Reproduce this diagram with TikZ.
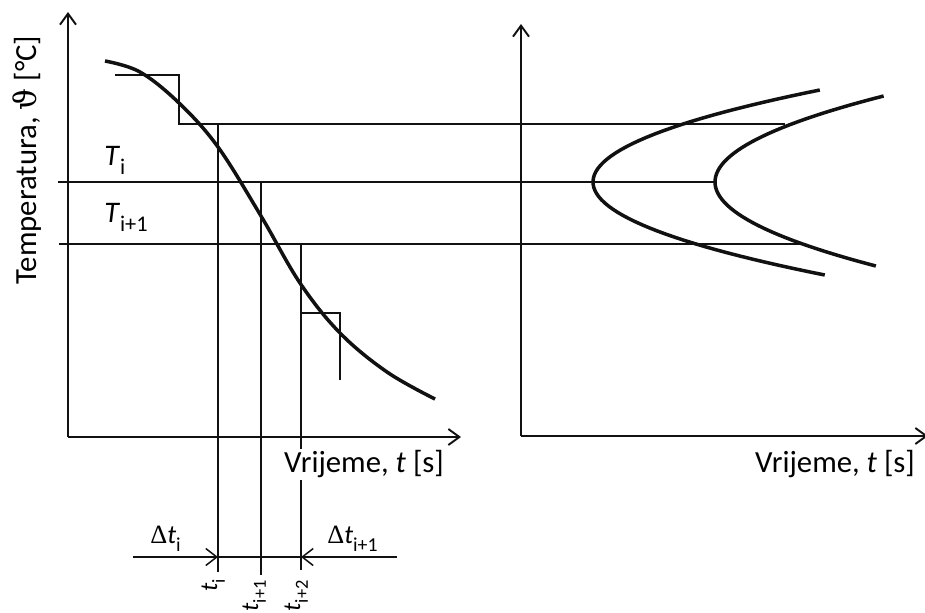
\documentclass[tikz,border=0pt]{standalone}
\usepackage{fontspec}
\setmainfont{Carlito}
\newfontfamily\symfont{DejaVu Serif}
\newfontfamily\deltafont{Liberation Serif}
\usetikzlibrary{arrows.meta,positioning,calc}
\definecolor{InkColor}{HTML}{111111}
\newcommand{\lowsub}[1]{\raisebox{-0.32em}{\scalebox{0.75}{#1}}}

\begin{document}
\begin{tikzpicture}[x=0.02cm,y=-0.02cm,
    axis/.style={InkColor,line width=1.1pt,-{Straight Barb[length=2.2mm,width=3.2mm,line width=1.1pt]}},
    grid line/.style={InkColor,line width=0.85pt},
    dimarrow/.style={InkColor,line width=0.85pt,-{Straight Barb[length=2.2mm,width=3.4mm,line width=0.85pt]}},
    curve/.style={InkColor,line width=2pt},
    axlabel/.style={font=\fontsize{17.5}{20}\selectfont,inner sep=1pt},
    tlabel/.style={font=\fontsize{17}{20}\selectfont,inner sep=0pt,anchor=base west},
    dtlabel/.style={font=\fontsize{15}{18}\selectfont,inner sep=0pt,anchor=base west},
    ticklabel/.style={font=\fontsize{14}{16}\selectfont,inner sep=0pt,rotate=90,anchor=base east}]
  \useasboundingbox (0,0) rectangle (925,612);
  % axes
  \coordinate (O1) at (68,437);  \coordinate (Y1) at (68,12);  \coordinate (X1) at (461,437);
  \coordinate (O2) at (521,436); \coordinate (Y2) at (521,24); \coordinate (X2) at (928,436);
  \draw[axis] (O1) -- (Y1);
  \draw[axis] (O1) -- (X1);
  \draw[axis] (O2) -- (Y2);
  \draw[axis] (O2) -- (X2);
  % steps and level lines
  \draw[grid line] (115,75) -- (179,75) -- (179,124) -- (785,124);
  \draw[grid line] (58,182) -- (715,182);
  \draw[grid line] (59,244) -- (803,244);
  \draw[grid line] (218,124) -- (218,572);
  \draw[grid line] (261,182) -- (261,575);
  \draw[grid line] (301,244) -- (301,570);
  \draw[grid line] (301,313) -- (340,313) -- (340,380);
  % cooling curve
  \draw[curve] plot[smooth,tension=0.6] coordinates {(105,61) (140,72) (179,103) (218,147)
      (261,216) (300,283) (340,333) (387,372) (435,399)};
  % parabolas
  \draw[curve] plot[domain=-92:93,samples=60] ({593+0.0268*\x*\x},{182+\x});
  \draw[curve] plot[domain=-86:84,samples=60] ({715+0.0228*\x*\x},{182+\x});
  % time steps
  \coordinate (dA) at (133,557); \coordinate (ti) at (218,557);
  \coordinate (tii) at (301,557); \coordinate (dB) at (397,557);
  \draw[dimarrow] (dA) -- (ti);
  \draw[grid line] (ti) -- (tii);
  \draw[dimarrow] (dB) -- (tii);
  % labels
  \node[axlabel,rotate=90] (ylab) at (27,160) {Temperatura, {\symfont ϑ} [°C]};
  \node[axlabel,fill=white] (xlab1) at (364,464) {Vrijeme, \textit{t} [s]};
  \node[axlabel] (xlab2) at (835,464) {Vrijeme, \textit{t} [s]};
  \node[tlabel] (Ti) at (104,165) {\textit{T}\lowsub{i}};
  \node[tlabel] (Tii) at (104,222) {\textit{T}\lowsub{i+1}};
  \node[dtlabel] (dti) at (150,543) {{\deltafont Δ}\textit{t}\lowsub{i}};
  \node[dtlabel] (dtii) at (327,543) {{\deltafont Δ}\textit{t}\lowsub{i+1}};
  \node[ticklabel] (t1) at (217,579) {\textit{t}\lowsub{i}};
  \node[ticklabel] (t2) at (258,580) {\textit{t}\lowsub{i+1}};
  \node[ticklabel] (t3) at (300,580) {\textit{t}\lowsub{i+2}};
\end{tikzpicture}
\end{document}
